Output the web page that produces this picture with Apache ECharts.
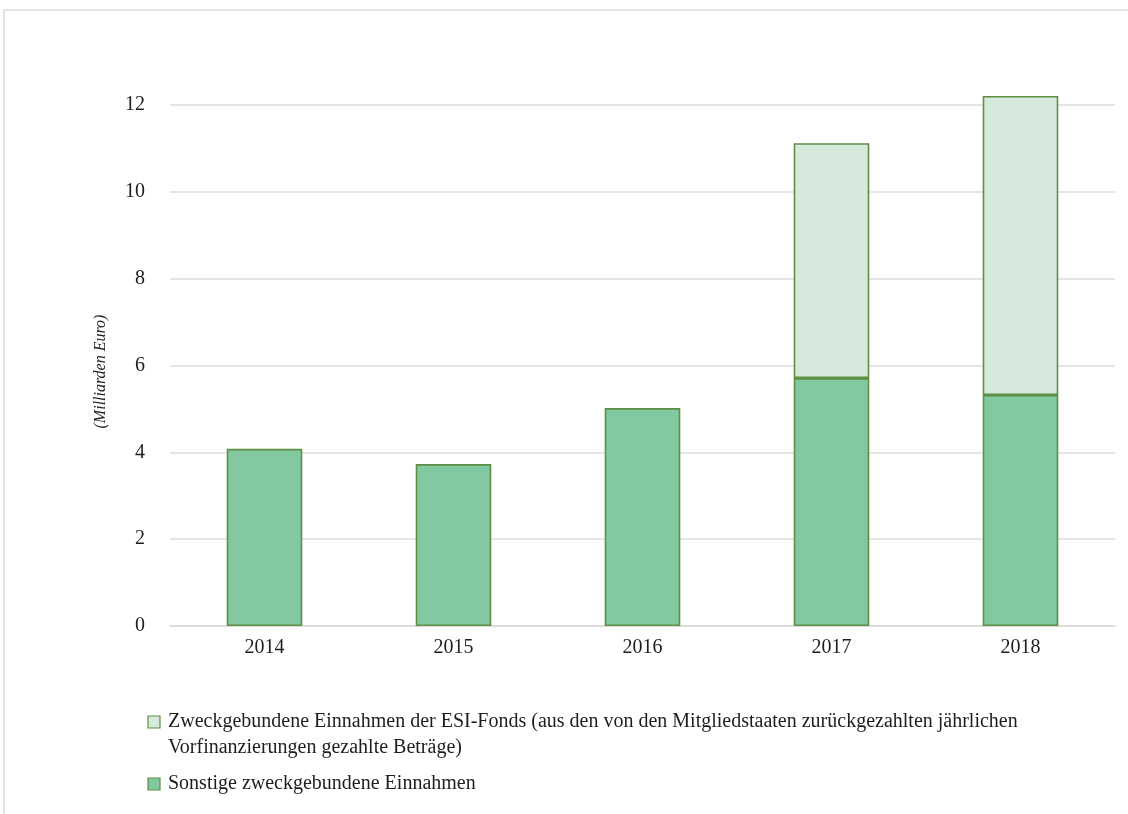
<!DOCTYPE html>
<html>
<head>
<meta charset="utf-8">
<script src="https://cdn.jsdelivr.net/npm/echarts@6/dist/echarts.min.js"></script>
<style>
  html, body { margin: 0; padding: 0; background: #ffffff; }
  #chart { width: 1128px; height: 814px; }
</style>
</head>
<body>
<div id="chart"></div>
<script>
// Jahre und Beträge (Milliarden Euro)
const years = ['2014', '2015', '2016', '2017', '2018'];
const sonstige = [4.08, 3.73, 5.02, 5.71, 5.32];
const esiFonds = [null, null, null, 5.41, 6.89];
const yTicks = [0, 2, 4, 6, 8, 10, 12];

const nameEsiLines = [
  'Zweckgebundene Einnahmen der ESI-Fonds (aus den von den Mitgliedstaaten zurückgezahlten jährlichen',
  'Vorfinanzierungen gezahlte Beträge)'
];
const nameSonstige = 'Sonstige zweckgebundene Einnahmen';

const serif = '"Liberation Serif", "DejaVu Serif", serif';
const textColor = '#1e1e1e';
const borderGreen = '#5f8f45';
const darkFill = '#82c8a0';
const lightFill = '#d5eadd';

// Legend block drawn below the plot: swatch aligned with the first text line
function legendItem(fill, lines, top) {
  const children = [{
    type: 'rect',
    shape: { x: 148, y: top - 6, width: 12, height: 12 },
    style: { fill: fill, stroke: borderGreen, lineWidth: 1.2 }
  }];
  lines.forEach((line, i) => {
    children.push({
      type: 'text',
      x: 168,
      y: top + i * 26,
      style: { text: line, font: '20px ' + serif, fill: textColor, verticalAlign: 'middle' }
    });
  });
  return { type: 'group', children: children };
}

const chart = echarts.init(document.getElementById('chart'), null, { renderer: 'canvas' });
chart.setOption({
  backgroundColor: '#ffffff',
  animation: false,
  graphic: [
    {
      type: 'polyline',
      shape: { points: [[4, 814], [4, 10], [1128, 10]] },
      style: { stroke: '#dcdcdc', lineWidth: 1.5, fill: null }
    },
    legendItem(lightFill, nameEsiLines, 722),
    legendItem(darkFill, [nameSonstige], 784)
  ],
  grid: { left: 170, right: 13, top: 105, bottom: 188 },
  xAxis: {
    type: 'category',
    data: years,
    axisLine: { lineStyle: { color: '#d9d9d9', width: 1.5 } },
    axisTick: { show: false },
    axisLabel: { fontFamily: serif, fontSize: 20, color: textColor, margin: 12 }
  },
  yAxis: {
    type: 'value',
    min: yTicks[0],
    max: yTicks[yTicks.length - 1],
    interval: 2,
    name: '(Milliarden Euro)',
    nameLocation: 'middle',
    nameGap: 61,
    nameTextStyle: { fontFamily: serif, fontSize: 16, fontStyle: 'italic', color: textColor, padding: [0, 12, 0, 0] },
    axisLine: { show: false },
    axisTick: { show: false },
    axisLabel: { fontFamily: serif, fontSize: 20, color: textColor, margin: 25 },
    splitLine: { lineStyle: { color: '#dcdcdc', width: 1.5 } }
  },
  series: [
    {
      name: nameSonstige,
      type: 'bar',
      stack: 'total',
      barWidth: '40%',
      clip: false,
      data: sonstige,
      itemStyle: { color: darkFill, borderColor: borderGreen, borderWidth: 1.6 }
    },
    {
      name: nameEsiLines.join(' '),
      type: 'bar',
      stack: 'total',
      barWidth: '40%',
      clip: false,
      data: esiFonds,
      itemStyle: { color: lightFill, borderColor: borderGreen, borderWidth: 1.6 }
    }
  ]
});
</script>
</body>
</html>
